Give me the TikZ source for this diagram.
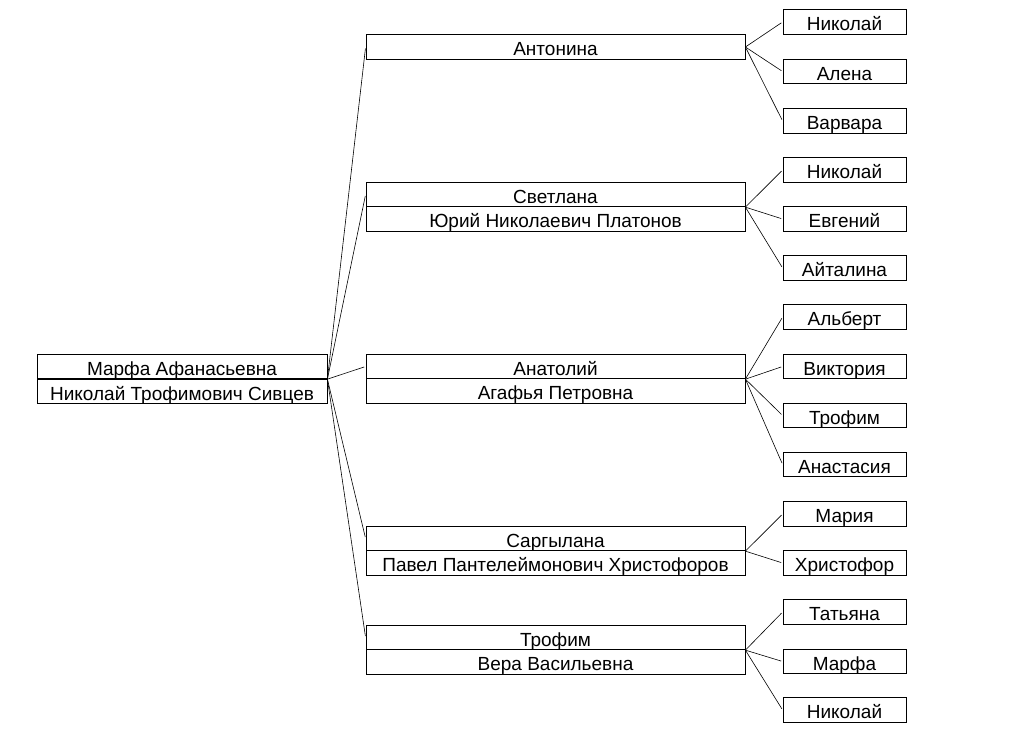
\documentclass[tikz,border=0pt]{standalone}
\usepackage{fontspec}
\setmainfont{Liberation Sans}
\usepackage{tikz}

\tikzset{
	osoba/.style={draw, line width=0.8pt, inner sep=0pt, align=center, minimum height=24.5pt, text height=18pt, text depth=1pt},
	korzen/.style={osoba, minimum width=290pt},
	rodzic/.style={osoba, minimum width=379pt},
	dziecko/.style={osoba, minimum width=123pt},
	linia/.style={line width=0.6pt, shorten >=1.5pt}
}

\begin{document}
\begin{tikzpicture}[x=1pt, y=-1pt, font=\fontsize{19}{22}\selectfont]
		\useasboundingbox (0,0) rectangle (1015,736);

		% Korzeń
		\node[korzen] (R1) at (182,366.5) {Марфа Афанасьевна};
		\node[korzen] (R2) at (182,391.5) {Николай Трофимович Сивцев};

		% Rodzice
		\node[rodzic] (A) at (555.5,47) {Антонина};
		\node[rodzic] (S1) at (555.5,194.5) {Светлана};
		\node[rodzic] (S2) at (555.5,219) {Юрий Николаевич Платонов};
		\node[rodzic] (N1) at (555.5,366.5) {Анатолий};
		\node[rodzic] (N2) at (555.5,391) {Агафья Петровна};
		\node[rodzic] (G1) at (555.5,538.5) {Саргылана};
		\node[rodzic] (G2) at (555.5,563) {Павел Пантелеймонович Христофоров};
		\node[rodzic] (T1) at (555.5,637.5) {Трофим};
		\node[rodzic] (T2) at (555.5,662) {Вера Васильевна};

		% Dzieci
		\node[dziecko] (A1) at (844.5,22) {Николай};
		\node[dziecko] (A2) at (844.5,71.5) {Алена};
		\node[dziecko] (A3) at (844.5,121) {Варвара};
		\node[dziecko] (S3) at (844.5,170) {Николай};
		\node[dziecko] (S4) at (844.5,219) {Евгений};
		\node[dziecko] (S5) at (844.5,268) {Айталина};
		\node[dziecko] (N3) at (844.5,317) {Альберт};
		\node[dziecko] (N4) at (844.5,366.5) {Виктория};
		\node[dziecko] (N5) at (844.5,415.5) {Трофим};
		\node[dziecko] (N6) at (844.5,464.5) {Анастасия};
		\node[dziecko] (G3) at (844.5,514) {Мария};
		\node[dziecko] (G4) at (844.5,563) {Христофор};
		\node[dziecko] (T3) at (844.5,612) {Татьяна};
		\node[dziecko] (T4) at (844.5,661.5) {Марфа};
		\node[dziecko] (T5) at (844.5,710) {Николай};

		% Linie
		\draw[linia] (R1.south east) -- (A.west);
		\draw[linia] (R1.south east) -- (S1.west);
		\draw[linia] (R1.south east) -- (N1.west);
		\draw[linia] (R1.south east) -- (G1.west);
		\draw[linia] (R1.south east) -- (T1.west);

		\draw[linia] (A.east) -- (A1.west);
		\draw[linia] (A.east) -- (A2.west);
		\draw[linia] (A.east) -- (A3.west);
		\draw[linia] (S1.south east) -- (S3.west);
		\draw[linia] (S1.south east) -- (S4.west);
		\draw[linia] (S1.south east) -- (S5.west);
		\draw[linia] (N1.south east) -- (N3.west);
		\draw[linia] (N1.south east) -- (N4.west);
		\draw[linia] (N1.south east) -- (N5.west);
		\draw[linia] (N1.south east) -- (N6.west);
		\draw[linia] (G1.south east) -- (G3.west);
		\draw[linia] (G1.south east) -- (G4.west);
		\draw[linia] (T1.south east) -- (T3.west);
		\draw[linia] (T1.south east) -- (T4.west);
		\draw[linia] (T1.south east) -- (T5.west);

	\end{tikzpicture}
\end{document}
